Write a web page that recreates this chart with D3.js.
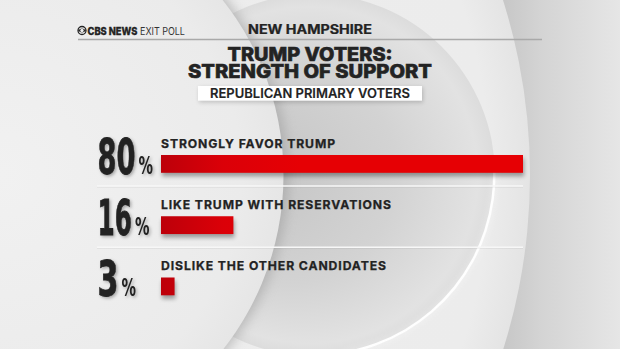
<!DOCTYPE html>
<html>
<head>
<meta charset="utf-8">
<script src="https://cdn.jsdelivr.net/npm/d3@7"></script>
<style>
  html, body { margin: 0; padding: 0; background: #e9e9e9; }
  svg { display: block; }
</style>
</head>
<body>
<svg id="chart" width="620" height="349"></svg>
<script>
// ---- data ----
const categories = ["STRONGLY FAVOR TRUMP", "LIKE TRUMP WITH RESERVATIONS", "DISLIKE THE OTHER CANDIDATES"];
const values = [80, 16, 3];
const valueLabels = ["80", "16", "3"];
const stateName = "NEW HAMPSHIRE";
const titleLines = ["TRUMP VOTERS:", "STRENGTH OF SUPPORT"];
const subtitle = "REPUBLICAN PRIMARY VOTERS";

const W = 620, H = 349;
const svg = d3.select("#chart");
const defs = svg.append("defs");

function linGrad(id, x1, y1, x2, y2, stops) {
  const g = defs.append("linearGradient").attr("id", id)
    .attr("gradientUnits", "userSpaceOnUse")
    .attr("x1", x1).attr("y1", y1).attr("x2", x2).attr("y2", y2);
  stops.forEach(s => g.append("stop").attr("offset", s[0]).attr("stop-color", s[1]));
}
function radGrad(id, cx, cy, r, stops, fx, fy) {
  const g = defs.append("radialGradient").attr("id", id)
    .attr("gradientUnits", "userSpaceOnUse")
    .attr("cx", cx).attr("cy", cy).attr("r", r);
  if (fx !== undefined) g.attr("fx", fx).attr("fy", fy);
  stops.forEach(s => g.append("stop").attr("offset", s[0]).attr("stop-color", s[1]));
}
linGrad("outerBg", 500, 0, 620, 0, [[0, "#c6c6c6"], [0.35, "#d4d4d4"], [1, "#e6e6e6"]]);
radGrad("circC", -50, 175, 580, [[0, "#eeeeee"], [0.93, "#ececec"], [1, "#e4e4e4"]]);
radGrad("circB", 314, 175, 181, [[0, "#c4c4c4"], [0.6, "#d3d3d3"], [0.93, "#e2e2e2"], [1, "#dcdcdc"]], 250, 175);
radGrad("circA", 1.5, 175, 282, [[0, "#f1f1f1"], [0.85, "#ebebeb"], [1, "#e6e6e6"]]);
linGrad("barGrad", 160, 0, 300, 0, [[0, "#bc000a"], [0.45, "#db0008"], [1, "#e60004"]]);

const blur = (id, sd) => defs.append("filter").attr("id", id)
  .attr("x", "-50%").attr("y", "-50%").attr("width", "200%").attr("height", "200%")
  .append("feGaussianBlur").attr("stdDeviation", sd);
blur("blur6", 6);
blur("blur3", 3);
blur("blur2", 2);
defs.append("filter").attr("id", "txtShadow")
  .attr("x", "-20%").attr("y", "-20%").attr("width", "150%").attr("height", "150%")
  .append("feDropShadow").attr("dx", 1.5).attr("dy", 1.5).attr("stdDeviation", 1.5)
  .attr("flood-color", "#000").attr("flood-opacity", 0.3);

// ---- background ----
const bg = svg.append("g");
bg.append("rect").attr("width", W).attr("height", H).attr("fill", "url(#outerBg)");
bg.append("circle").attr("cx", -50).attr("cy", 175).attr("r", 580).attr("fill", "url(#circC)");
bg.append("circle").attr("cx", 314).attr("cy", 175).attr("r", 181).attr("fill", "url(#circB)");
const arcB = d3.arc()({innerRadius: 179, outerRadius: 181.5, startAngle: Math.PI / 2 - 0.05, endAngle: Math.PI / 2 + 1.4});
bg.append("path").attr("d", arcB).attr("transform", "translate(314,175)").attr("fill", "#ffffff").attr("opacity", 0.95);
bg.append("path").attr("d", arcB).attr("transform", "translate(314,175)").attr("fill", "#ffffff").attr("opacity", 0.6).attr("filter", "url(#blur3)");
bg.append("circle").attr("cx", 6).attr("cy", 175).attr("r", 282).attr("fill", "#9a9a9a").attr("opacity", 0.55).attr("filter", "url(#blur6)");
bg.append("circle").attr("cx", 1.5).attr("cy", 175).attr("r", 282).attr("fill", "url(#circA)");

// ---- helpers ----
const ink = "#232323";
const fontHead = "Inter, 'DejaVu Sans', sans-serif";
// place a text so its advance width equals w (horizontal scale only)
function fitText(sel, x0, y0, w, anchor) {
  const nat = sel.node().getComputedTextLength();
  const sx = w / nat;
  const left = anchor === "middle" ? x0 - w / 2 : x0;
  sel.attr("transform", `translate(${left},${y0}) scale(${sx},1)`);
  return sel;
}

// ---- header ----
const logo = svg.append("g").attr("transform", "translate(82,30.5)");
logo.append("circle").attr("r", 4).attr("fill", "none").attr("stroke", ink).attr("stroke-width", 1.3);
logo.append("path").attr("d", "M-4,0 Q0,-4.2 4,0 Q0,4.2 -4,0Z").attr("fill", ink);
logo.append("circle").attr("r", 1.7).attr("fill", "#eeeeee");

fitText(svg.append("text").attr("font-family", fontHead).attr("font-size", 10.5)
  .attr("font-weight", 800).attr("fill", ink).attr("stroke", ink).attr("stroke-width", 0.3)
  .text("CBS NEWS"), 87.5, 34.5, 50);
fitText(svg.append("text").attr("font-family", fontHead).attr("font-size", 10.5)
  .attr("font-weight", 400).attr("fill", "#333")
  .text("EXIT POLL"), 140, 34.5, 45);

svg.append("line").attr("x1", 78).attr("x2", 542).attr("y1", 39.5).attr("y2", 39.5)
  .attr("stroke", "#a9a9a9").attr("stroke-width", 1.5);

fitText(svg.append("text").attr("font-family", fontHead).attr("font-weight", 700)
  .attr("font-size", 12.8).attr("fill", ink).attr("stroke", ink).attr("stroke-width", 0.25)
  .text(stateName), 310, 34, 124, "middle");

// title: one text element, two lines
const titleY = [61, 78.3];
const titleW = [165, 244];
const title = svg.append("text")
  .attr("font-family", fontHead).attr("font-weight", 800).attr("font-size", 18.5).attr("fill", ink)
  .attr("stroke", ink).attr("stroke-width", 0.6).attr("text-anchor", "middle");
title.selectAll("tspan").data(titleLines).join("tspan")
  .attr("x", 310).attr("y", (d, i) => titleY[i])
  .attr("textLength", (d, i) => titleW[i]).attr("lengthAdjust", "spacingAndGlyphs")
  .text(d => d);

svg.append("rect").attr("x", 199).attr("y", 87.5).attr("width", 224).attr("height", 15)
  .attr("fill", "#000").attr("opacity", 0.18).attr("filter", "url(#blur2)");
svg.append("rect").attr("x", 198).attr("y", 86).attr("width", 224).attr("height", 14.7).attr("fill", "#ffffff");
fitText(svg.append("text").attr("font-family", fontHead).attr("font-weight", 600)
  .attr("font-size", 13).attr("fill", ink).attr("stroke", ink).attr("stroke-width", 0.15)
  .text(subtitle), 310, 97.7, 200, "middle");

// ---- bars ----
const x = d3.scaleLinear().domain([0, 80]).range([161, 523]);
const y = d3.scalePoint().domain(categories).range([155, 277.5]);
const barH = 17.8;

const rows = svg.append("g").selectAll("g").data(categories).join("g")
  .attr("transform", d => `translate(0,${y(d)})`);

rows.filter((d, i) => i < categories.length - 1).append("line")
  .attr("x1", 97).attr("x2", 523).attr("y1", 31).attr("y2", 31)
  .attr("stroke", "#f7f7f7").attr("stroke-width", 1.6);
rows.filter((d, i) => i < categories.length - 1).append("line")
  .attr("x1", 97).attr("x2", 523).attr("y1", 32.3).attr("y2", 32.3)
  .attr("stroke", "#000").attr("stroke-opacity", 0.05).attr("stroke-width", 1);

rows.append("rect").attr("x", x(0) + 1).attr("y", 3.5)
  .attr("width", (d, i) => x(values[i]) - x(0)).attr("height", barH)
  .attr("fill", "#000").attr("opacity", 0.35).attr("filter", "url(#blur2)");
rows.append("rect").attr("x", x(0)).attr("y", 0)
  .attr("width", (d, i) => x(values[i]) - x(0)).attr("height", barH)
  .attr("fill", "url(#barGrad)");

rows.append("text").attr("x", x(0)).attr("y", -7.3)
  .attr("font-family", fontHead).attr("font-weight", 700).attr("font-size", 12.2).attr("fill", ink)
  .attr("stroke", ink).attr("stroke-width", 0.25)
  .attr("letter-spacing", 0.9)
  .text(d => d);

// big numbers: condensed by horizontal scaling
const numFont = "'DejaVu Sans', sans-serif";
const numW = {"80": 38, "16": 34.5, "3": 21};
const numX = 97.5, pctW = 14.5;
const numG = rows.append("g").attr("filter", "url(#txtShadow)");
numG.each(function(d, i) {
  const g = d3.select(this);
  const label = valueLabels[i];
  fitText(g.append("text")
    .attr("font-family", numFont).attr("font-weight", 700).attr("font-size", 50).attr("fill", ink)
    .attr("stroke", ink).attr("stroke-width", 0.8)
    .text(label), numX, barH + 0.8, numW[label]);
  fitText(g.append("text")
    .attr("font-family", numFont).attr("font-weight", 700).attr("font-size", 24).attr("fill", ink)
    .text("%"), numX + numW[label] + 3, barH + 0.8, pctW);
});
</script>
</body>
</html>
